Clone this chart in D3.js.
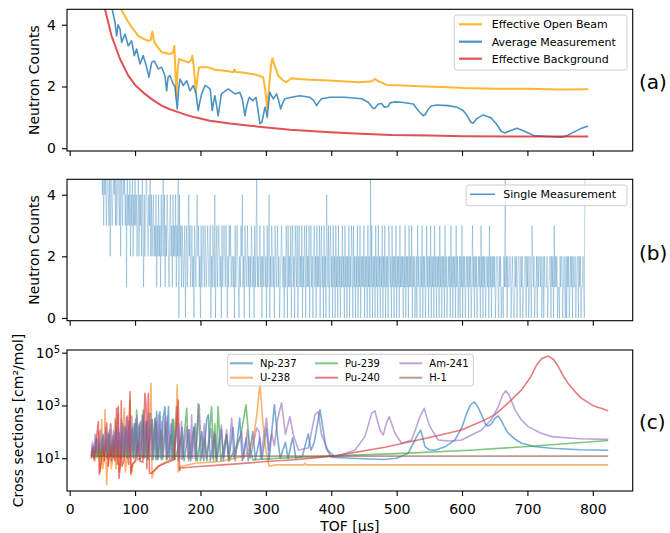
<!DOCTYPE html>
<html>
<head>
<meta charset="utf-8">
<script src="https://cdn.jsdelivr.net/npm/d3@7"></script>
<style>
  body { margin: 0; background: #fff; }
  svg text { font-family: "DejaVu Sans", sans-serif; fill: #000; }
</style>
</head>
<body>
<svg id="plot"></svg>
<script>
// ---------- data ----------
// panel (a): [TOF us, counts]
const openBeam = [[33,12],[55,7],[70,5.2],[78.4,4.51],[87.2,4.18],[94.8,3.92],[104.9,3.64],[112,3.55],[120,3.48],[124,3.5],[126.4,3.78],[129.4,3.43],[140.6,3.11],[153.4,3.05],[158,3.1],[160,3.32],[161.5,2.6],[163,1.65],[165,2.5],[167,2.89],[181.4,2.78],[186,2.85],[187.5,3.0],[190,2.6],[193,1.81],[195.5,2.3],[197.7,2.62],[212,2.62],[222,2.54],[240,2.5],[250,2.46],[252,2.55],[254,2.47],[265,2.45],[285,2.38],[296,2.3],[299,1.9],[302,1.29],[305,2.0],[308,2.7],[310,2.91],[313,2.7],[319,2.35],[326,2.2],[331,2.14],[335,2.2],[339.5,2.27],[350,2.24],[367,2.22],[398,2.19],[441,2.14],[460,2.16],[467,2.24],[473,2.16],[485,2.05],[510,2.03],[543,2.0],[570,1.98],[602,1.95],[650,1.93],[700,1.93],[750,1.9],[793,1.91]];
const avgMeasurement = [[33,9],[50,6],[60,5],[65,4.5],[69.3,4.08],[71.8,3.64],[74,4.0],[77,3.86],[79.5,3.43],[84.6,3.7],[89.6,3.32],[94.8,3.48],[98.8,3.0],[102.4,3.21],[107.5,2.73],[112.5,3.0],[117.7,2.62],[121.3,2.3],[125.4,2.78],[129.4,2.83],[135.5,2.57],[140.7,2.62],[145.7,2.35],[148.3,1.86],[150.5,2.3],[153.4,2.35],[158.4,2.08],[161,2.0],[164.5,1.27],[166.5,1.9],[168.7,2.24],[173.7,2.03],[178.9,2.19],[184,1.86],[189,2.03],[193,1.8],[196.6,1.22],[199,1.5],[201.8,1.76],[206.9,2.03],[212,1.97],[215,1.9],[218,1.22],[220,1.5],[222,1.7],[224.5,1.4],[227,1.05],[229.5,1.4],[232,1.76],[242.5,1.92],[252.8,1.76],[260,1.81],[264,1.6],[268,1.05],[271,1.4],[274.6,1.65],[279.8,1.54],[284.9,1.65],[287.5,1.3],[291,0.79],[294,0.85],[296,1.05],[298.6,1.33],[300.5,1.2],[302,1.0],[304,1.4],[306,1.81],[311.3,1.6],[316.5,1.76],[319.5,1.55],[322.6,1.27],[325.5,1.45],[329,1.6],[339.4,1.65],[352,1.7],[367.4,1.65],[373,1.55],[377.7,1.38],[381,1.5],[385.3,1.6],[398,1.65],[421,1.65],[446.5,1.6],[456.6,1.49],[464,1.29],[467,1.3],[471.9,1.43],[477,1.45],[481,1.33],[487,1.35],[489.8,1.47],[497,1.5],[507.6,1.49],[525.4,1.43],[533,1.22],[540.7,1.05],[544,1.1],[548.3,1.27],[553.5,1.37],[561,1.4],[579,1.38],[591.7,1.33],[601.8,1.22],[608,1.05],[613,0.85],[617,0.81],[622,0.95],[632.4,1.08],[640,1.02],[645,0.97],[652,0.8],[660,0.55],[665.6,0.49],[672,0.55],[683.5,0.65],[692,0.58],[701.2,0.49],[711.5,0.4],[731.8,0.38],[752,0.36],[760,0.4],[767.6,0.49],[782.9,0.65],[793,0.72]];
const background = [[33,12],[45,6.3],[54,4.5],[64,3.64],[77,2.89],[89.6,2.35],[100,2.05],[115,1.76],[128,1.55],[140.7,1.38],[152,1.27],[166,1.17],[178,1.08],[191.6,1.0],[214.5,0.89],[245,0.8],[275.7,0.73],[305,0.66],[337,0.6],[368,0.56],[398,0.52],[445,0.47],[492,0.43],[550,0.41],[602,0.39],[700,0.38],[793,0.38]];

// panel (b): counts per TOF bin, bins start at 49 us, 1 us wide
const singleStart = 49, singleStep = 1;
const singleCounts = [
  "5453545345435254345453534543525435453415",
  "3435243524353423524342531423543243524234",
  "2324132423142352413243213423142324132504",
  "2313212302312423123120321342312031232132",
  "1232123021321402312321203123213202132312",
  "2120312321021324120321231202132120312512",
  "1231202132120312402132120321231201232120",
  "2132031213023120321302312130213203121302",
  "3120231203121302312031204213023120312031",
  "2031202131203120213021320312021302130212",
  "1302120312051302120312031202130213021203",
  "2120312021302120312120213021203121302120",
  "1203121021302120131202130212031202120312",
  "0212031201212031202120312012021302120121",
  "2021201312021201212031202120121203120212",
  "1201221021201102151202112201210021201221",
  "0212011220212012103212011202122120120211",
  "1201122021203121201102122012102021201212",
  "02112012202120112105"
].join('');

// panel (c): cross sections [TOF us, cm2/mol]
const np237 = [[33,12],[36,30],[38,10],[41,60],[43,12],[46,40],[48,11],[51,80],[53,12],[56,50],[58,10],[61,120],[63,12],[66,70],[68,10],[71,150],[73,11],[76,90],[78,10],[81,200],[83,12],[86,120],[88,10],[91,250],[93,11],[96,150],[98,10],[101,300],[103,10],[106,180],[108,9],[112,400],[114,10],[118,250],[120,9],[124,500],[126,9],[130,300],[132,9],[133,600],[135,9],[138,580],[140,9],[143,350],[145.7,900],[148,9],[151,900],[153,9],[157,300],[159,9],[163.6,900],[166,8],[172,150],[175,8],[182,120],[185,8],[192,200],[195,8],[202,100],[205,8],[209.5,300],[212,440],[215,8],[222,80],[225,8],[232,120],[235,8],[240,76],[243,8],[250,150],[253,8],[260,330],[264,8],[270,60],[273,8],[280,100],[284,9],[291,60],[294,9],[301,140],[305,9],[313,1050],[318,60],[322,10],[330,40],[334,10],[341,60],[346,10],[356,12],[360,30],[364.8,83],[369,20],[374,40],[379,200],[382.7,700],[387,150],[392,25],[400,11],[430,10],[480,9],[500,10],[517.7,15.5],[525,35],[530.6,66],[536.7,117],[540,60],[543.3,27.5],[550,21],[558.6,20],[575,28],[589,49],[600,150],[607,500],[613,1050],[618.6,1380],[624,900],[630,437],[636,190],[640,166],[645,200],[650,320],[655.4,400],[660,270],[665,150],[670.6,90],[680,55],[691.1,37],[710,28],[737,24],[780,21],[823.5,20]];
const u238 = [[33,10],[35,20],[37,9],[40,50],[42,10],[45,100],[46.5,3],[48,8],[49,300],[50.5,4],[53,9],[54,680],[56.6,1.0],[58,6],[60,10],[62.3,200],[63.5,4],[66,10],[69.5,320],[70.5,4],[72,9],[74.3,500],[75.5,3],[78,9],[83.7,800],[85,3],[88,10],[92.5,1600],[94,2.3],[97,6],[103,9],[110,11],[118,12],[122,60],[124.3,6900],[126,1.8],[128,3],[140,6],[155,9],[160,14],[162,100],[164.5,6000],[166,3],[168.7,4.8],[192,6.5],[230,7.5],[260,11],[268,11.5],[280,40],[286,400],[291,6900],[295,300],[300,20],[305,5],[314,5.6],[358,5.6],[360,6.5],[362,5.6],[405,5.6],[823.5,5.6]];
const pu239 = [[33,12],[35,25],[37,11],[40,40],[42,12],[45,30],[47,11],[50,60],[52,12],[55,35],[57,11],[60,80],[62,12],[65,45],[67,11],[70,100],[72,12],[75,60],[77,11],[80,90],[82,11],[85,150],[87,11],[90,80],[92,11],[95,120],[97,11],[99,200],[101,12],[102.4,670],[104,12],[109,250],[111,11],[112.6,670],[115,11],[117,200],[119,11],[126,300],[128,9],[132,250],[134,9],[140,120],[142,9],[147,250],[149,9],[155,80],[157,9],[159,300],[161,9],[170,60],[172,9],[178.9,780],[182,8],[190,150],[193,8],[196.6,1150],[200,8],[206,60],[210,8],[217,900],[220,8],[222,200],[224,8],[227,900],[231,8],[240,80],[244,8],[255,30],[262,80],[269.6,1050],[275,30],[280,8.7],[300,9.5],[405,12.3],[500,15],[612,20],[700,28],[823.5,47]];
const pu240 = [[33,10],[36,25],[38,8],[41,60],[43.8,245],[45.3,2.4],[48,7],[51,30],[53,8],[56.6,215],[59,5],[62,30],[64,8],[67,50],[69,8],[71.8,780],[73,6],[74.3,900],[75.4,1.74],[78,7],[78.9,1500],[80,5],[83,8],[86,80],[88.1,400],[90,6],[92.2,3300],[93.3,2.7],[96,6],[100,8],[105,40],[107,8],[112,7],[115,2900],[116.6,1200],[118,4],[120.2,2900],[122,2.7],[125,2.7],[135,5],[150,7],[160,9],[166,1600],[168,3.5],[170,4.3],[192,4.8],[250,6],[300,7.5],[350,9],[405.7,12.3],[482,26],[533,49],[570,80],[599,117],[630,250],[650,440],[670,1200],[691,3900],[705,12000],[714,34000],[722,60000],[731.8,74000],[740,55000],[747,30000],[755,13000],[762,7000],[772,3500],[782.9,1860],[800,1000],[823.5,630]];
const am241 = [[33,15],[35,40],[37,14],[39,80],[41,16],[43,50],[45,18],[47,120],[49,18],[51,70],[53,17],[55,150],[57,18],[59,90],[61,17],[63,200],[65,18],[67,110],[69,16],[71,250],[73,16],[75,130],[77,15],[79,300],[81,15],[83,160],[85,14],[87,350],[89,14],[91,180],[93,14],[95,400],[97,14],[99,200],[101,13],[103,420],[105,13],[107,220],[109,13],[111,450],[113,12],[116,250],[118,12],[121,500],[123,12],[126,280],[128,12],[131,350],[133,11],[136,450],[138,11],[141,250],[143,11],[146,350],[148,11],[149,400],[151,11],[155,200],[157,11],[164,150],[166,11],[167,200],[169,10],[171,250],[173,10],[179,160],[181,10],[183,120],[185,10],[186.5,440],[188,10],[190,150],[192,10],[198,1050],[202,10],[206,200],[209,10],[216,130],[219,10],[221,100],[224,10],[232,180],[235,10],[240,120],[243,10],[247.7,330],[251,10],[263,100],[266,10],[272,120],[276,10],[286,140],[290,100],[292,10],[301,330],[305,20],[308.8,90],[313,30],[318,300],[324,1260],[330,80],[336.8,380],[342,76],[350,20],[365,25],[375,440],[380,590],[385,80],[395,20],[405.7,11.5],[436,20],[451.5,66],[461.8,500],[466.8,630],[470,300],[474.5,117],[479.5,76],[484,200],[488.7,380],[493,180],[497.4,89],[507.6,37],[522.9,49],[530,150],[535.6,380],[542.2,780],[547,300],[550.9,158],[563.6,49],[580,45],[599.4,49],[630,117],[645,300],[655.4,890],[662,2500],[667,3630],[672,2500],[681,680],[690,300],[701.2,158],[720,90],[737,66],[780,55],[823.5,52]];
const h1 = [[33,12],[823.5,12]];

const xTickValues = [0, 100, 200, 300, 400, 500, 600, 700, 800];
const countTicks = [0, 2, 4];
const logTicks = [1, 3, 5];

// ---------- layout ----------
let width = 670;
let height = 533;
let left = 67, right = 632.7;
let panels = {
    a: { top: 9.3, bottom: 151 },
    b: { top: 179.3, bottom: 320.7 },
    c: { top: 350, bottom: 491 }
};

let svg = d3.select('#plot')
    .attr('width', width)
    .attr('height', height)
    .style('background', '#FFFFFF');

let xScale = d3.scaleLinear().domain([-4.1, 861]).range([left, right]);

function clipFor(id, p) {
    svg.append('clipPath').attr('id', id)
        .append('rect')
        .attr('x', left).attr('y', p.top)
        .attr('width', right - left).attr('height', p.bottom - p.top);
}

function frame(p) {
    svg.append('rect')
        .attr('x', left).attr('y', p.top)
        .attr('width', right - left).attr('height', p.bottom - p.top)
        .attr('fill', 'none').attr('stroke', '#000').attr('stroke-width', 1.1);
}

function xAxisFor(p, labels) {
    let ax = svg.append('g')
        .attr('transform', `translate(0, ${p.bottom})`)
        .call(d3.axisBottom(xScale).tickValues(xTickValues).tickSize(5).tickPadding(8)
            .tickFormat(labels ? d3.format('d') : ''));
    ax.select('.domain').remove();
    ax.selectAll('line').attr('stroke', '#000').attr('stroke-width', 1.1);
    ax.selectAll('text').style('font-size', '14px').attr('fill', '#000');
    return ax;
}

function countPanel(p) {
    let yScale = d3.scaleLinear().domain([-0.09, 4.5]).range([p.bottom, p.top]);
    let ax = svg.append('g')
        .attr('transform', `translate(${left}, 0)`)
        .call(d3.axisLeft(yScale).tickValues(countTicks).tickSize(5).tickPadding(6)
            .tickFormat(d3.format('d')));
    ax.select('.domain').remove();
    ax.selectAll('line').attr('stroke', '#000').attr('stroke-width', 1.1);
    ax.selectAll('text').style('font-size', '14px').attr('fill', '#000');
    svg.append('text')
        .attr('transform', `translate(39, ${(p.top + p.bottom) / 2}) rotate(-90)`)
        .style('text-anchor', 'middle')
        .style('font-size', '14px')
        .text('Neutron Counts');
    return yScale;
}

function legendBox(x0, y0, x1, y1) {
    svg.append('rect')
        .attr('x', x0).attr('y', y0)
        .attr('width', x1 - x0).attr('height', y1 - y0)
        .attr('rx', 2.5)
        .attr('fill', '#fff').attr('fill-opacity', 0.8)
        .attr('stroke', '#cccccc').attr('stroke-width', 1);
}

function legendItem(x, y, len, textX, color, opacity, label, size, lw) {
    svg.append('line')
        .attr('x1', x).attr('x2', x + len).attr('y1', y).attr('y2', y)
        .attr('stroke', color).attr('stroke-opacity', opacity).attr('stroke-width', lw);
    svg.append('text')
        .attr('x', textX).attr('y', y)
        .attr('dy', '0.35em')
        .style('font-size', size + 'px')
        .text(label);
}

function panelLabel(txt, y) {
    svg.append('text')
        .attr('x', 639).attr('y', y)
        .attr('dy', '0.35em')
        .style('font-size', '20px')
        .text(txt);
}

// ---------- panel (a) ----------
let pa = panels.a;
clipFor('clipA', pa);
let yA = countPanel(pa);
xAxisFor(pa, false);

let lineA = d3.line().x(d => xScale(d[0])).y(d => yA(d[1]));
let gA = svg.append('g').attr('clip-path', 'url(#clipA)');

gA.append('path').datum(openBeam)
    .attr('d', lineA).attr('fill', 'none')
    .attr('stroke', '#FFA500').attr('stroke-opacity', 0.8).attr('stroke-width', 2)
    .attr('stroke-linejoin', 'round');
gA.append('path').datum(avgMeasurement)
    .attr('d', lineA).attr('fill', 'none')
    .attr('stroke', '#1f77b4').attr('stroke-opacity', 0.8).attr('stroke-width', 1.6)
    .attr('stroke-linejoin', 'round');
gA.append('path').datum(background)
    .attr('d', lineA).attr('fill', 'none')
    .attr('stroke', '#d62728').attr('stroke-opacity', 0.8).attr('stroke-width', 2)
    .attr('stroke-linejoin', 'round');
frame(pa);

legendBox(454.3, 15, 627, 70);
legendItem(459, 24.3, 23, 491.7, '#FFA500', 0.8, 'Effective Open Beam', 11, 2.2);
legendItem(459, 41.7, 23, 491.7, '#1f77b4', 0.8, 'Average Measurement', 11, 2.2);
legendItem(459, 58.7, 23, 491.7, '#d62728', 0.8, 'Effective Background', 11, 2.2);
panelLabel('(a)', 81.5);

// ---------- panel (b) ----------
let pb = panels.b;
clipFor('clipB', pb);
let yB = countPanel(pb);
xAxisFor(pb, false);

let single = singleCounts.split('').map((c, i) => [singleStart + i * singleStep, +c]);
let gB = svg.append('g').attr('clip-path', 'url(#clipB)');
gB.append('path').datum(single)
    .attr('d', d3.line().x(d => xScale(d[0])).y(d => yB(d[1])))
    .attr('fill', 'none')
    .attr('stroke', '#1f77b4').attr('stroke-opacity', 0.3).attr('stroke-width', 1);
frame(pb);

legendBox(466, 185, 627, 205.7);
legendItem(470, 194.3, 25, 503.3, '#1f77b4', 0.8, 'Single Measurement', 11, 1.5);
panelLabel('(b)', 252.5);

// ---------- panel (c) ----------
let pc = panels.c;
clipFor('clipC', pc);
xAxisFor(pc, true);

let yC = d3.scaleLog().domain([Math.pow(10, -0.24), Math.pow(10, 5.1)]).range([pc.bottom, pc.top]);
let axC = svg.append('g')
    .attr('transform', `translate(${left}, 0)`)
    .call(d3.axisLeft(yC).tickValues(logTicks.map(e => Math.pow(10, e))).tickSize(5).tickFormat(''));
axC.select('.domain').remove();
axC.selectAll('line').attr('stroke', '#000').attr('stroke-width', 1.1);
logTicks.forEach(e => {
    let t = svg.append('text')
        .attr('x', 60).attr('y', yC(Math.pow(10, e)))
        .attr('dy', '0.35em')
        .style('text-anchor', 'end')
        .style('font-size', '14px');
    t.append('tspan').text('10');
    t.append('tspan').attr('dy', '-0.45em').style('font-size', '10px').text(e);
});

svg.append('text')
    .attr('transform', `translate(23, ${(pc.top + pc.bottom) / 2}) rotate(-90)`)
    .style('text-anchor', 'middle')
    .style('font-size', '14px')
    .text('Cross sections [cm²/mol]');
svg.append('text')
    .attr('x', (left + right) / 2).attr('y', 531)
    .style('text-anchor', 'middle')
    .style('font-size', '14px')
    .text('TOF [μs]');

let isotopes = [
    { name: 'Np-237', data: np237, color: '#1f77b4' },
    { name: 'U-238', data: u238, color: '#ff7f0e' },
    { name: 'Pu-239', data: pu239, color: '#2ca02c' },
    { name: 'Pu-240', data: pu240, color: '#d62728' },
    { name: 'Am-241', data: am241, color: '#9467bd' },
    { name: 'H-1', data: h1, color: '#8c564b' }
];

let lineC = d3.line().x(d => xScale(d[0])).y(d => yC(d[1]));
let gC = svg.append('g').attr('clip-path', 'url(#clipC)');
isotopes.forEach(iso => {
    gC.append('path').datum(iso.data)
        .attr('d', lineC).attr('fill', 'none')
        .attr('stroke', iso.color).attr('stroke-opacity', 0.6).attr('stroke-width', 1.6)
        .attr('stroke-linejoin', 'round');
});
frame(pc);

legendBox(227.7, 354.3, 473.3, 386);
let colX = [[230, 260], [315, 345], [399.3, 429.3]];
let rowY = [363.3, 377.7];
isotopes.forEach((iso, i) => {
    let col = Math.floor(i / 2), row = i % 2;
    legendItem(colX[col][0], rowY[row], 23, colX[col][1], iso.color, 0.6, iso.name, 10, 2);
});
panelLabel('(c)', 421.5);
</script>
</body>
</html>
